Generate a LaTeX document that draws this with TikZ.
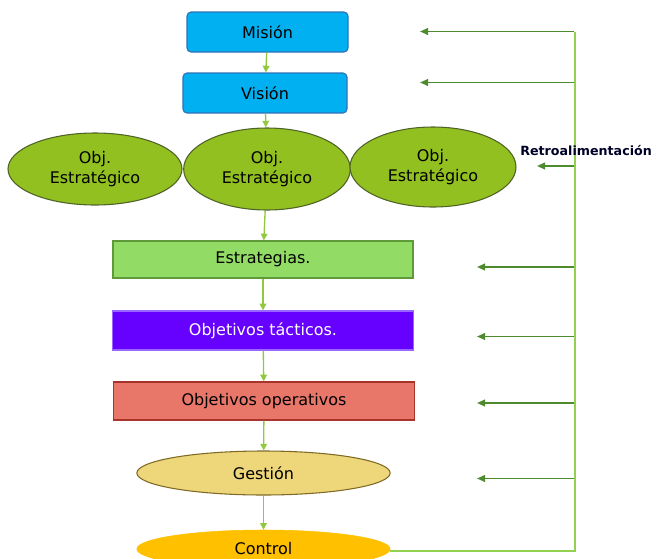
\documentclass[tikz,border=0pt]{standalone}
\usepackage{fontspec}
\setmainfont{DejaVu Sans}
\usetikzlibrary{arrows.meta,shapes.geometric}
\definecolor{mision_blue}{HTML}{00B0F0}
\definecolor{mision_edge}{HTML}{2F72B8}
\definecolor{obj_green}{HTML}{92C020}
\definecolor{obj_edge}{HTML}{4F6228}
\definecolor{estr_green}{HTML}{92DC66}
\definecolor{estr_edge}{HTML}{5E9A3A}
\definecolor{tact_violet}{HTML}{6600FF}
\definecolor{tact_edge}{HTML}{9966FF}
\definecolor{oper_red}{HTML}{E8776A}
\definecolor{oper_edge}{HTML}{A8332A}
\definecolor{gest_yellow}{HTML}{EED67A}
\definecolor{gest_edge}{HTML}{7F6A25}
\definecolor{ctrl_orange}{HTML}{FFC000}
\definecolor{flow_green}{HTML}{92C83E}
\definecolor{retro_green}{HTML}{4E8A2E}
\definecolor{line_green}{HTML}{92D050}
\tikzset{
  bluebox/.style={rectangle, rounded corners=3pt, draw=mision_edge, line width=0.8pt,
    fill=mision_blue, minimum width=120.75pt, minimum height=30pt},
  objellipse/.style={ellipse, draw=obj_edge, line width=0.8pt, fill=obj_green,
    align=center, inner sep=0pt},
  levelbox/.style={rectangle, line width=1pt, minimum width=226pt, minimum height=28.5pt},
  flow/.style={flow_green, line width=1pt, -{Triangle[length=5pt,width=5pt]}},
  retro/.style={retro_green, line width=1.3pt, -{Triangle[length=6pt,width=5pt]}}
}

\begin{document}
\begin{tikzpicture}[x=0.75pt, y=-0.75pt, font=\fontsize{12}{15}\selectfont]
\useasboundingbox (0,0) rectangle (658,558);

% Draw the mission and vision boxes
\node[bluebox] (mision) at (267.5,32) {Misión};
\node[bluebox, minimum width=123pt] (vision) at (265,93) {Visión};

% Draw the three strategic objectives
\node[objellipse, minimum width=130.5pt, minimum height=54pt] (objleft) at (95,169) {Obj.\\Estratégico};
\node[objellipse, minimum width=125pt, minimum height=61.5pt] (objmid) at (267,169) {Obj.\\Estratégico};
\node[objellipse, minimum width=124.5pt, minimum height=60pt] (objright) at (433,167) {Obj.\\Estratégico};

% Draw the levels below
\node[levelbox, draw=estr_edge, fill=estr_green, minimum width=225pt, minimum height=27.75pt] (estrategias) at (263,259.5) {Estrategias.};
\node[levelbox, draw=tact_edge, fill=tact_violet, text=white, minimum height=29.25pt] (tacticos) at (263,330.5) {Objetivos tácticos.};
\node[levelbox, draw=oper_edge, fill=oper_red] (operativos) at (264,401) {Objetivos operativos};
\node[ellipse, draw=gest_edge, line width=0.8pt, fill=gest_yellow, minimum width=190pt, minimum height=33pt] (gestion) at (263.5,473) {Gestión};
\node[ellipse, draw=ctrl_orange, fill=ctrl_orange, minimum width=190pt, minimum height=28.5pt] (control) at (263.5,549) {Control};

% Draw the downward flow
\draw[flow] (mision) -- (vision);
\draw[flow] (vision) -- (objmid);
\draw[flow] (objmid) -- (estrategias);
\draw[flow] (estrategias) -- (tacticos);
\draw[flow] (tacticos) -- (operativos);
\draw[flow] (operativos) -- (gestion);
\draw[flow] (gestion) -- (control);

% Draw the feedback line
\coordinate (fbtop) at (575,31.5);
\coordinate (fbbot) at (575,551);
\draw[line_green, line width=1pt] (control.east |- fbbot) -- (fbbot) -- (fbtop);

% Draw the feedback arrows
\foreach \y/\xend [count=\i] in {31.5/420, 82.5/420, 166/537, 267/477, 336.5/477, 403/477, 478.5/477} {
  \coordinate (fbstart\i) at (574,\y);
  \coordinate (fbend\i) at (\xend,\y);
  \draw[retro] (fbstart\i) -- (fbend\i);
}

\node[anchor=base west, inner sep=0pt, font=\fontsize{9.5}{11}\selectfont\bfseries, text=black!85!blue] (retrolabel) at (520,155) {Retroalimentación};

\end{tikzpicture}
\end{document}
